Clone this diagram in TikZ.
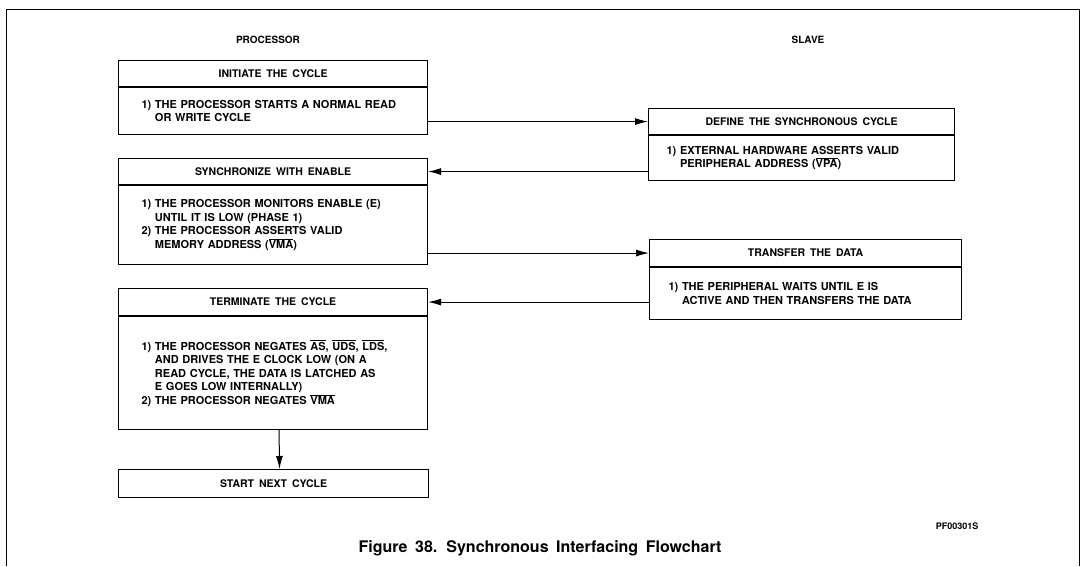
\documentclass[tikz,border=0pt]{standalone}
\usepackage{fontspec}
\setmainfont{TeX Gyre Heros}[WordSpace=1.7]
\usetikzlibrary{arrows.meta,positioning}
\newcommand{\ovl}[1]{$\overline{\hbox{#1}}$}
\newcommand{\hng}{\hphantom{1)~}}
\begin{document}
\begin{tikzpicture}[x=1pt,y=-1pt,
  lab/.style={font=\fontsize{10}{12}\selectfont\bfseries},
  head/.style={draw,line width=1.1pt,inner sep=0pt,anchor=north west,font=\fontsize{10.5}{12}\selectfont\bfseries},
  body/.style={draw,line width=1.1pt,inner ysep=0pt,align=left,font=\fontsize{11}{13.5}\selectfont\bfseries},
  flow/.style={line width=1pt,-{Latex[length=13pt,width=7pt]}}]
\useasboundingbox (0,0) rectangle (1084,566);
\draw[line width=0.9pt] (6,566) -- (6,9) -- (1079,9) -- (1079,566);
\node[lab] (procL) at (268,40) {PROCESSOR};
\node[lab] (slaveL) at (808,40) {SLAVE};
% processor side
\node[head,minimum width=309pt,minimum height=26pt] (initH) at (118,60) {INITIATE THE CYCLE};
\node[body,below=0pt of initH,minimum height=47pt,inner xsep=23pt,text width=263pt] (initB)
  {1)~THE PROCESSOR STARTS A NORMAL READ\\ \hng OR WRITE CYCLE};
\node[head,minimum width=309pt,minimum height=26pt] (syncH) at (118,158) {SYNCHRONIZE WITH ENABLE};
\node[body,below=0pt of syncH,minimum height=79pt,inner xsep=23pt,text width=263pt] (syncB)
  {1)~THE PROCESSOR MONITORS ENABLE (E)\\ \hng UNTIL IT IS LOW (PHASE 1)\\
   2)~THE PROCESSOR ASSERTS VALID\\ \hng MEMORY ADDRESS (\ovl{VMA})};
\node[head,minimum width=309pt,minimum height=27pt] (termH) at (118,288) {TERMINATE THE CYCLE};
\node[body,below=0pt of termH,minimum height=113pt,inner xsep=23pt,text width=263pt] (termB)
  {1)~THE PROCESSOR NEGATES \ovl{AS}, \ovl{UDS}, \ovl{LDS},\\ \hng AND DRIVES THE E CLOCK LOW (ON A\\
   \hng READ CYCLE, THE DATA IS LATCHED AS\\ \hng E GOES LOW INTERNALLY)\\
   2)~THE PROCESSOR NEGATES \ovl{VMA}};
\node[head,minimum width=310pt,minimum height=28pt] (startN) at (118,469) {START NEXT CYCLE};
% slave side
\node[head,minimum width=306pt,minimum height=26pt] (defH) at (648,108) {DEFINE THE SYNCHRONOUS CYCLE};
\node[body,below=0pt of defH,minimum height=45pt,inner xsep=18pt,text width=270pt] (defB)
  {1)~EXTERNAL HARDWARE ASSERTS VALID\\ \hng PERIPHERAL ADDRESS (\ovl{VPA})};
\node[head,minimum width=312pt,minimum height=27pt] (xferH) at (649,239) {TRANSFER THE DATA};
\node[body,below=0pt of xferH,minimum height=52pt,inner xsep=19pt,text width=274pt] (xferB)
  {1)~THE PERIPHERAL WAITS UNTIL E IS\\ \hng ACTIVE AND THEN TRANSFERS THE DATA};
% connectors
\draw[flow] (initB.east |- defH.west) -- (defH.west);
\draw[flow] (defB.west |- syncH.east) -- (syncH.east);
\draw[flow] (syncB.east |- xferH.west) -- (xferH.west);
\draw[flow] (xferB.west |- termH.east) -- (termH.east);
\draw[flow] ([xshift=6pt]termB.south) -- ([xshift=6pt]startN.north);
\node[font=\fontsize{9}{10}\selectfont\bfseries] (pfid) at (957,526) {PF00301S};
\node[font=\fontsize{16}{18}\selectfont\bfseries] (cap) at (540,548) {Figure 38. Synchronous Interfacing Flowchart};
\end{tikzpicture}
\end{document}
